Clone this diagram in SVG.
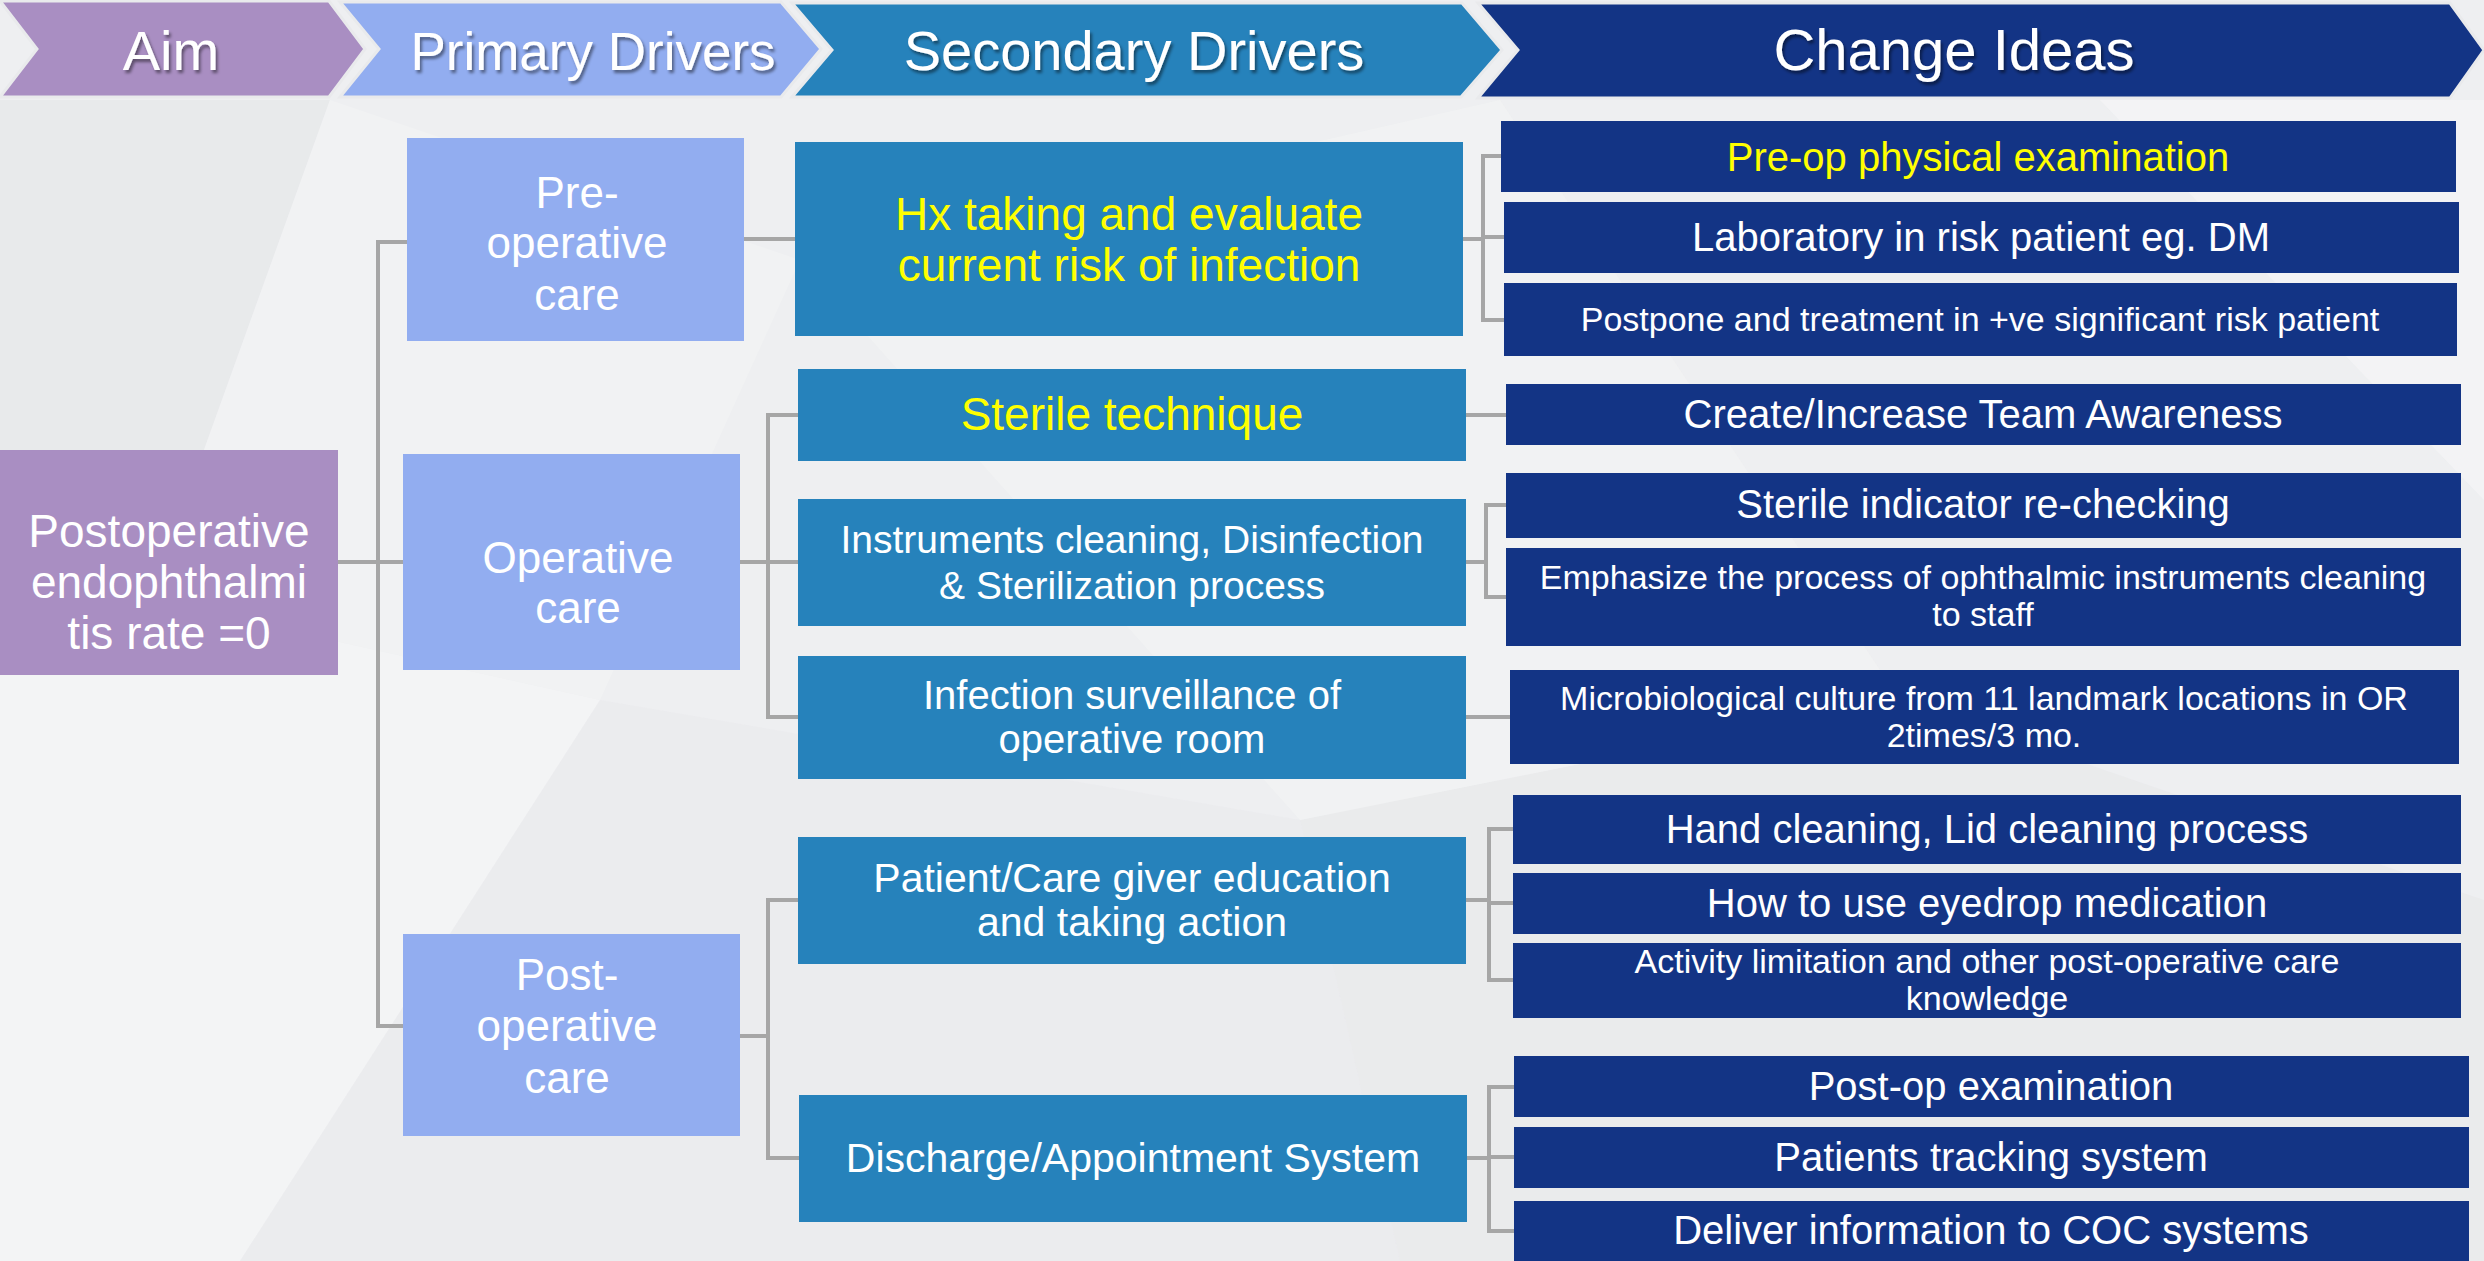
<svg xmlns="http://www.w3.org/2000/svg" width="2484" height="1261" viewBox="0 0 2484 1261">
<defs>
<filter id="sh" x="-10%" y="-20%" width="120%" height="150%">
<feDropShadow dx="2" dy="3" stdDeviation="1.5" flood-color="#000" flood-opacity="0.45"/>
</filter>
<style>
.hdr{stroke:#E9EAEC;stroke-width:3}
.ht{font-family:"Liberation Sans",Arial,sans-serif;font-size:56px;fill:#fff;text-anchor:middle;filter:url(#sh)}
.aim{fill:#A98EC2}
.pri{fill:#92ADF0}
.sec{fill:#2682BB}
.chg{fill:#133485}
.t{font-family:"Liberation Sans",Arial,sans-serif;fill:#fff;text-anchor:middle}
.y{fill:#FFFF00}
.s46{font-size:46px}
.s44{font-size:44px}
.s41{font-size:41px}
.s40{font-size:40px}
.s39{font-size:39px}
.s34{font-size:34px}
.con{fill:none;stroke:#A6A6A6;stroke-width:4;stroke-linejoin:miter}
</style>
</defs>

<!-- background -->
<rect x="0" y="0" width="2484" height="1261" fill="#EEEFF1"/>
<g id="bg" stroke="none">
<polygon points="0,100 330,100 150,600 0,560" fill="#E5E6E8" opacity="0.6"/>
<polygon points="0,560 150,600 600,700 240,1261 0,1261" fill="#F3F4F5"/>
<polygon points="150,600 600,700 800,260 330,100" fill="#F1F2F3"/>
<polygon points="600,700 1300,820 1400,1261 240,1261" fill="#E9EAEC" opacity="0.6"/>
<polygon points="1300,820 1900,700 2484,900 2484,1261 1400,1261" fill="#E7E8EA" opacity="0.6"/>
<polygon points="800,260 1500,100 1900,700 1300,820" fill="#F2F3F4" opacity="0.7"/>
<polygon points="2100,100 2484,100 2484,500" fill="#F5F5F6" opacity="0.7"/>
</g>

<!-- header -->
<g id="header">
<g id="h-aim"><polygon class="hdr aim" points="0,1 329,1 365,49 329,97 0,97 37,49"/><text class="ht" x="171" y="70">Aim</text></g>
<g id="h-primary"><polygon class="hdr pri" points="340,2 781,2 821,49 781,97 340,97 379,49"/><text class="ht" x="593" y="70" style="font-size:53px">Primary Drivers</text></g>
<g id="h-secondary"><polygon class="hdr sec" points="792,3 1462,3 1502,50 1461,97 792,97 832,50"/><text class="ht" x="1134" y="70">Secondary Drivers</text></g>
<g id="h-change"><polygon class="hdr chg" points="1478,3 2450,3 2484,50 2450,98 1478,98 1518,50"/><text class="ht" x="1954" y="70" style="font-size:58px">Change Ideas</text></g>
</g>

<!-- connectors -->
<g id="connectors">
<path class="con" d="M338,562 H403"/>
<path class="con" d="M412,242 H378 V1026 H405"/>
<path class="con" d="M744,239 H795"/>
<path class="con" d="M740,562 H798"/>
<path class="con" d="M800,415 H768 V717 H800"/>
<path class="con" d="M740,1036 H768"/>
<path class="con" d="M800,900 H768 V1158 H801"/>
<path class="con" d="M1463,239 H1483"/>
<path class="con" d="M1503,156 H1483 V320 H1506"/>
<path class="con" d="M1483,237 H1506"/>
<path class="con" d="M1466,415 H1508"/>
<path class="con" d="M1466,562 H1486"/>
<path class="con" d="M1508,505 H1486 V597 H1508"/>
<path class="con" d="M1466,717 H1512"/>
<path class="con" d="M1466,900 H1489"/>
<path class="con" d="M1515,829 H1489 V980 H1515"/>
<path class="con" d="M1489,903 H1515"/>
<path class="con" d="M1467,1158 H1489"/>
<path class="con" d="M1516,1087 H1489 V1231 H1516"/>
<path class="con" d="M1489,1157 H1516"/>
</g>

<!-- aim -->
<g id="aim">
<rect class="aim" x="0" y="450" width="338" height="225"/>
<text class="t s46" x="169" y="547">Postoperative</text>
<text class="t s46" x="169" y="598">endophthalmi</text>
<text class="t s46" x="169" y="649">tis rate =0</text>
</g>

<!-- primary drivers -->
<g id="pd-preop">
<rect class="pri" x="407" y="138" width="337" height="203"/>
<text class="t s44" x="577" y="208">Pre-</text>
<text class="t s44" x="577" y="258">operative</text>
<text class="t s44" x="577" y="310">care</text>
</g>
<g id="pd-op">
<rect class="pri" x="403" y="454" width="337" height="216"/>
<text class="t s44" x="578" y="573">Operative</text>
<text class="t s44" x="578" y="623">care</text>
</g>
<g id="pd-postop">
<rect class="pri" x="403" y="934" width="337" height="202"/>
<text class="t s44" x="567" y="990">Post-</text>
<text class="t s44" x="567" y="1041">operative</text>
<text class="t s44" x="567" y="1093">care</text>
</g>

<!-- secondary drivers -->
<g id="sd-hx">
<rect class="sec" x="795" y="142" width="668" height="194"/>
<text class="t y s46" x="1129" y="230">Hx taking and evaluate</text>
<text class="t y s46" x="1129" y="281">current risk of infection</text>
</g>
<g id="sd-sterile">
<rect class="sec" x="798" y="369" width="668" height="92"/>
<text class="t y s46" x="1132" y="430">Sterile technique</text>
</g>
<g id="sd-instr">
<rect class="sec" x="798" y="499" width="668" height="127"/>
<text class="t s39" x="1132" y="553">Instruments cleaning, Disinfection</text>
<text class="t s39" x="1132" y="599">&amp; Sterilization process</text>
</g>
<g id="sd-infect">
<rect class="sec" x="798" y="656" width="668" height="123"/>
<text class="t s40" x="1132" y="709">Infection surveillance of</text>
<text class="t s40" x="1132" y="753">operative room</text>
</g>
<g id="sd-patient">
<rect class="sec" x="798" y="837" width="668" height="127"/>
<text class="t s41" x="1132" y="892">Patient/Care giver education</text>
<text class="t s41" x="1132" y="936">and taking action</text>
</g>
<g id="sd-discharge">
<rect class="sec" x="799" y="1095" width="668" height="127"/>
<text class="t s41" x="1133" y="1172">Discharge/Appointment System</text>
</g>

<!-- change ideas -->
<g id="ci-preop-exam">
<rect class="chg" x="1501" y="121" width="955" height="71"/>
<text class="t y s40" x="1978" y="171">Pre-op physical examination</text>
</g>
<g id="ci-lab">
<rect class="chg" x="1504" y="202" width="955" height="71"/>
<text class="t s40" x="1981" y="251">Laboratory in risk patient eg. DM</text>
</g>
<g id="ci-postpone">
<rect class="chg" x="1504" y="283" width="953" height="73"/>
<text class="t s34" x="1980" y="331">Postpone and treatment in +ve significant risk patient</text>
</g>
<g id="ci-create">
<rect class="chg" x="1506" y="384" width="955" height="61"/>
<text class="t s40" x="1983" y="428">Create/Increase Team Awareness</text>
</g>
<g id="ci-indicator">
<rect class="chg" x="1506" y="473" width="955" height="65"/>
<text class="t s40" x="1983" y="518">Sterile indicator re-checking</text>
</g>
<g id="ci-emphasize">
<rect class="chg" x="1506" y="548" width="955" height="98"/>
<text class="t s34" x="1983" y="589">Emphasize the process of ophthalmic instruments cleaning</text>
<text class="t s34" x="1983" y="626">to staff</text>
</g>
<g id="ci-micro">
<rect class="chg" x="1510" y="670" width="949" height="94"/>
<text class="t s34" x="1984" y="710">Microbiological culture from 11 landmark locations in OR</text>
<text class="t s34" x="1984" y="747">2times/3 mo.</text>
</g>
<g id="ci-hand">
<rect class="chg" x="1513" y="795" width="948" height="69"/>
<text class="t s40" x="1987" y="843">Hand cleaning, Lid cleaning process</text>
</g>
<g id="ci-eyedrop">
<rect class="chg" x="1513" y="873" width="948" height="61"/>
<text class="t s40" x="1987" y="917">How to use eyedrop medication</text>
</g>
<g id="ci-activity">
<rect class="chg" x="1513" y="943" width="948" height="75"/>
<text class="t s34" x="1987" y="973">Activity limitation and other post-operative care</text>
<text class="t s34" x="1987" y="1010">knowledge</text>
</g>
<g id="ci-postop-exam">
<rect class="chg" x="1514" y="1056" width="955" height="61"/>
<text class="t s40" x="1991" y="1100">Post-op examination</text>
</g>
<g id="ci-tracking">
<rect class="chg" x="1514" y="1127" width="955" height="61"/>
<text class="t s40" x="1991" y="1171">Patients tracking system</text>
</g>
<g id="ci-coc">
<rect class="chg" x="1514" y="1201" width="955" height="60"/>
<text class="t s40" x="1991" y="1244">Deliver information to COC systems</text>
</g>
</svg>
